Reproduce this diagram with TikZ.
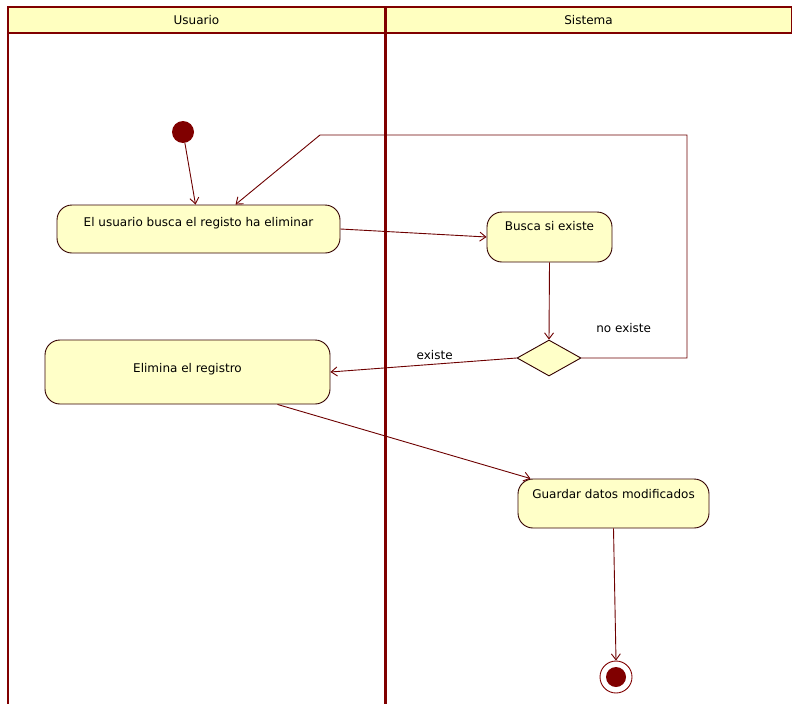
\documentclass[tikz,border=0pt]{standalone}
\usepackage{fontspec}
\setmainfont{DejaVu Sans}
\usetikzlibrary{shapes.geometric,arrows.meta}
\definecolor{granate}{HTML}{800000}
\definecolor{crema}{HTML}{FFFFC8}
\definecolor{cabecera}{HTML}{FFFFC0}

\begin{document}
\begin{tikzpicture}[x=1pt,y=-1pt,
        font=\fontsize{12}{14}\selectfont,
        accion/.style={draw=black!60!granate, line width=0.9pt, fill=crema, rectangle, rounded corners=15pt, text height=9pt},
        flujo/.style={draw=granate!85!black, line width=0.9pt, -{Straight Barb[length=6pt,width=9pt]}},
        carril/.style={draw=granate, line width=2pt},
        titulo/.style={carril, fill=cabecera, minimum height=26pt, inner sep=0pt}]
        \useasboundingbox (0,0) rectangle (792,704);

        % carriles
        \node[titulo, minimum width=377pt] (usuario) at (196.5,20) {Usuario};
        \node[titulo, minimum width=407pt] (sistema) at (588.5,20) {Sistema};
        \draw[carril] (8,7) -- (8,704);
        \draw[carril, line width=3pt] (385,7) -- (385,704);

        % nodos
        \node[circle, fill=granate, minimum size=22pt] (inicio) at (183,132) {};
        \node[accion, minimum width=283pt, minimum height=48pt, text depth=15pt] (buscar) at (198.5,229) {El usuario busca el registo ha eliminar};
        \node[accion, minimum width=125pt, minimum height=50pt, text depth=23pt] (verificar) at (549.5,237) {Busca si existe};
        \node[diamond, draw=black!60!granate, line width=0.9pt, fill=crema, minimum width=64pt, minimum height=36pt, inner sep=0pt] (decision) at (549,358) {};
        \node[accion, minimum width=285pt, minimum height=64pt, text depth=8pt] (eliminar) at (187.5,372) {Elimina el registro};
        \node[accion, minimum width=191pt, minimum height=49pt, text depth=19pt] (guardar) at (613.5,503.5) {Guardar datos modificados};
        \node[circle, draw=granate, line width=0.9pt, fill=white, minimum size=32pt,
            path picture={\fill[granate] (path picture bounding box.center) circle (10);}] (fin) at (616,677) {};
        \coordinate (giroA) at (687,135);
        \coordinate (giroB) at (320,135);

        % transiciones
        \draw[flujo] (inicio) -- ([xshift=-3pt]buscar.north);
        \draw[flujo] (buscar.east) -- (verificar.west);
        \draw[flujo] (verificar.south) -- (decision.north);
        \draw[flujo] (decision.west) -- node[pos=0.44, above=1pt] {existe} (eliminar.east);
        \draw[flujo] (decision.east) -| node[pos=0.2, above=22pt] {no existe} (giroA) -- (giroB) -- ([xshift=37pt]buscar.north);
        \draw[flujo] ([xshift=90pt]eliminar.south) -- ([xshift=-83pt]guardar.north);
        \draw[flujo] (guardar.south) -- (fin.north);
    \end{tikzpicture}
\end{document}
